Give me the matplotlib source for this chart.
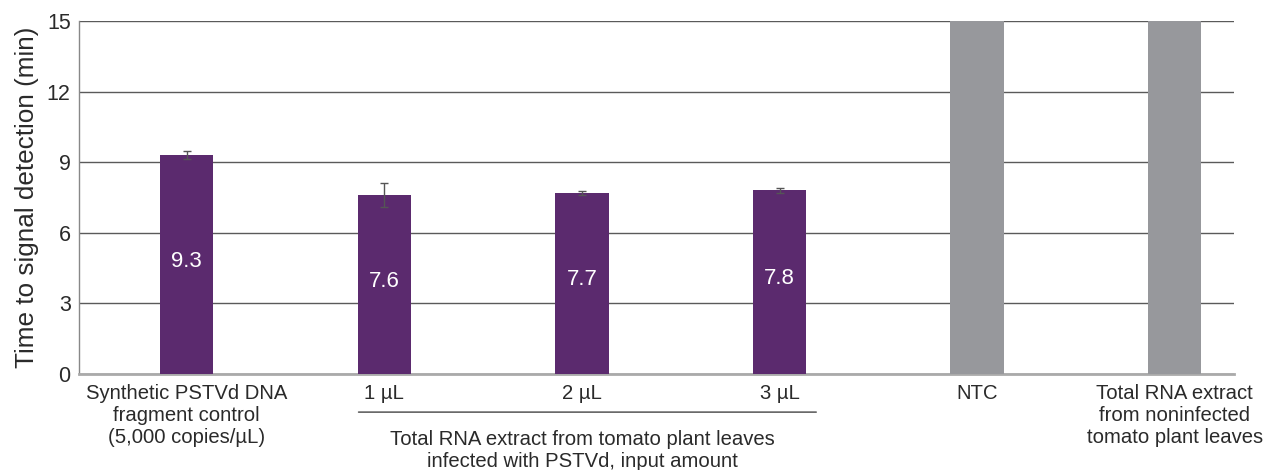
import matplotlib
matplotlib.use("Agg")
import matplotlib.pyplot as plt

plt.rcParams['font.family'] = ['Liberation Sans', 'DejaVu Sans']

categories = [
    "Synthetic PSTVd DNA\nfragment control\n(5,000 copies/µL)",
    "1 µL",
    "2 µL",
    "3 µL",
    "NTC",
    "Total RNA extract\nfrom noninfected\ntomato plant leaves",
]
times = [9.3, 7.6, 7.7, 7.8, 15.0, 15.0]
errors = [0.18, 0.5, 0.08, 0.1, 0.0, 0.0]
value_labels = ["9.3", "7.6", "7.7", "7.8", None, None]
group_label = "Total RNA extract from tomato plant leaves\ninfected with PSTVd, input amount"
y_ticks = [0, 3, 6, 9, 12, 15]

purple = "#5B2A6E"
gray = "#97989C"
text_color = "#2a2a2a"
colors = [purple, purple, purple, purple, gray, gray]

fig = plt.figure(figsize=(12.73, 4.70), dpi=100)
ax = fig.add_axes([0.0621, 0.2043, 0.9073, 0.751])

x = list(range(len(categories)))
ax.bar(x, times, width=0.27, color=colors, zorder=3)
for i, (t, e) in enumerate(zip(times, errors)):
    if e > 0:
        ax.errorbar(i, t, yerr=e, fmt='none', ecolor="#555555",
                    elinewidth=1, capsize=3, capthick=1, zorder=4)
for i, lbl in enumerate(value_labels):
    if lbl:
        ax.text(i, times[i] * 0.5 + 0.15, lbl, ha='center', va='center',
                color='white', fontsize=16, zorder=5)

ax.set_xlim(-0.545, 5.3)
ax.set_ylim(0, 15)
ax.set_yticks(y_ticks)
ax.set_yticklabels([str(t) for t in y_ticks], fontsize=15.5, color=text_color)
ax.yaxis.grid(True, color="#5a5a5a", linewidth=1, zorder=0)
ax.set_axisbelow(True)
ax.tick_params(axis='y', length=0, pad=6)
ax.tick_params(axis='x', length=0, pad=7)

ax.set_xticks(x)
ax.set_xticklabels(categories, fontsize=14.6, color=text_color, linespacing=1.22)

for s in ['top', 'right']:
    ax.spines[s].set_visible(False)
ax.spines['left'].set_color("#888888")
ax.spines['left'].set_linewidth(1)
ax.spines['bottom'].set_color("#aaaaaa")
ax.spines['bottom'].set_linewidth(2)

ax.set_ylabel("Time to signal detection (min)", fontsize=18.8, color=text_color, labelpad=6)

# bracket under the input-amount group
ax.annotate("", xy=(0.855, -0.108), xycoords=('data', 'axes fraction'),
            xytext=(3.2, -0.108), textcoords=('data', 'axes fraction'),
            arrowprops=dict(arrowstyle='-', color="#444444", lw=1))
ax.text(2.0, -0.158, group_label, transform=ax.get_xaxis_transform(),
        ha='center', va='top', fontsize=14.6, color=text_color, linespacing=1.22)

fig.savefig("out.png", dpi=100, facecolor='white')
